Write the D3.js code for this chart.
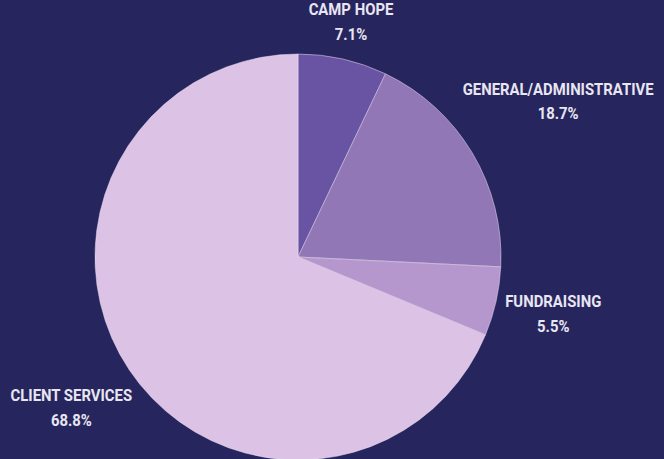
<!DOCTYPE html>
<html>
<head>
<meta charset="utf-8">
<script src="https://cdn.jsdelivr.net/npm/d3@7"></script>
<style>
  html, body { margin: 0; padding: 0; background: #27255d; }
  svg { display: block; }
  .lbl { font-family: Roboto, "Open Sans", sans-serif; font-weight: 700; font-size: 16px; fill: #e8e6f2; }
</style>
</head>
<body>
<div id="chart"></div>
<script>
// chart data
const categories = ["CAMP HOPE", "GENERAL/ADMINISTRATIVE", "FUNDRAISING", "CLIENT SERVICES"];
const values = [7.1, 18.7, 5.5, 68.8];
const colors = ["#6954a3", "#9177b6", "#b697cd", "#dcc3e6"];

const width = 664, height = 459;
const cx = 298, cy = 257, radius = 203;
const labelGap = 7;
const squeeze = 0.93; // condensed look

const data = categories.map((c, i) => ({ name: c, value: values[i], color: colors[i] }));

const svg = d3.select("#chart")
  .append("svg")
  .attr("width", width)
  .attr("height", height);

const g = svg.append("g")
  .attr("transform", `translate(${cx},${cy})`);

const pie = d3.pie()
  .value(d => d.value)
  .sort(null);

const arc = d3.arc()
  .innerRadius(0)
  .outerRadius(radius);

const arcs = pie(data);

g.selectAll("path")
  .data(arcs)
  .enter()
  .append("path")
  .attr("d", arc)
  .attr("fill", d => d.data.color)
  .attr("stroke", "#e9dff0")
  .attr("stroke-width", 0.5);

// labels: placed just outside the pie along each slice's mid angle
const labelGroups = g.selectAll(".lblg")
  .data(arcs)
  .enter()
  .append("g")
  .attr("class", "lblg");

const labels = labelGroups.append("text")
  .attr("class", "lbl")
  .attr("text-anchor", "middle")
  .attr("transform", `scale(${squeeze},1)`);

labels.append("tspan")
  .attr("x", 0)
  .attr("y", 0)
  .text(d => d.data.name);

labels.append("tspan")
  .attr("x", 0)
  .attr("y", 24.5)
  .text(d => d.data.value.toFixed(1) + "%");

labelGroups.each(function(d) {
  const bb = d3.select(this).select("text").node().getBBox();
  const a = (d.startAngle + d.endAngle) / 2;
  const ux = Math.sin(a), uy = -Math.cos(a);
  const w = bb.width * squeeze / 2, h = bb.height / 2;
  const t = radius + labelGap + w * Math.abs(ux) + h * Math.abs(uy);
  const px = t * ux, py = t * uy;
  const bcx = (bb.x + bb.width / 2) * squeeze, bcy = bb.y + bb.height / 2;
  d3.select(this).attr("transform", `translate(${px - bcx},${py - bcy})`);
});
</script>
</body>
</html>
